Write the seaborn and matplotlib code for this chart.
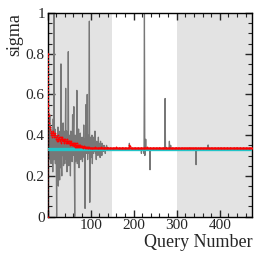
import numpy as np
import pandas as pd
import matplotlib
matplotlib.use("Agg")
import matplotlib.pyplot as plt
import seaborn as sns
from matplotlib.ticker import MultipleLocator, FuncFormatter

sns.set_style("ticks")
plt.rcParams['font.family'] = ['Liberation Serif', 'DejaVu Serif']

N_QUERIES = 476
BASELINE = 0.333

# grey series: per-query sigma for first 150 queries
grey_head = [
    0.34, 0.46, 0.26, 0.45, 0.32, 0.50, 0.28, 0.44, 0.26, 0.38,
    0.31, 0.42, 0.22, 0.48, 0.28, 1.00, 0.28, 0.43, 0.26, 0.39,
    0.30, 0.00, 0.40, 0.25, 0.44, 0.15, 0.38, 0.28, 0.18, 0.42,
    0.24, 0.75, 0.27, 0.20, 0.42, 0.30, 0.46, 0.25, 0.42, 0.30,
    0.26, 0.37, 0.63, 0.28, 0.42, 0.22, 0.38, 0.30, 0.81, 0.25,
    0.40, 0.30, 0.36, 0.20, 0.42, 0.31, 0.38, 0.27, 0.50, 0.30,
    0.41, 0.54, 0.30, 0.00, 0.40, 0.27, 0.37, 0.31, 0.62, 0.26,
    0.38, 0.30, 0.43, 0.24, 0.37, 0.31, 0.41, 0.28, 0.36, 0.31,
    0.39, 0.27, 0.37, 0.31, 0.45, 0.29, 0.38, 0.04, 0.41, 0.55,
    0.31, 0.37, 0.60, 0.28, 0.40, 0.31, 0.35, 0.96, 0.07, 0.39,
    0.31, 0.37, 0.29, 0.40, 0.26, 0.36, 0.31, 0.39, 0.32, 0.36,
    0.42, 0.31, 0.36, 0.28, 0.37, 0.32, 0.36, 0.30, 0.39, 0.31,
    0.36, 0.32, 0.29, 0.37, 0.33, 0.35, 0.30, 0.36, 0.33, 0.34,
    0.32, 0.35, 0.33, 0.34, 0.31, 0.34, 0.33, 0.35, 0.33, 0.34,
    0.333, 0.335, 0.332, 0.334, 0.333, 0.333, 0.334, 0.333, 0.333, 0.333,
]
# grey series after query 150: flat at baseline except these readings
grey_tail_idx = [190, 218, 224, 225, 226, 228, 238, 273, 275, 283, 286, 345, 373]
grey_tail_val = [0.36, 0.31, 0.31, 1.00, 0.30, 0.38, 0.23, 0.58, 0.34, 0.37, 0.35, 0.255, 0.352]

# red series: running estimate, first 100 queries
red_head = [
    0.00, 0.80, 0.55, 0.50, 0.46, 0.44, 0.43, 0.42, 0.41, 0.40,
    0.41, 0.39, 0.40, 0.42, 0.40, 0.41, 0.39, 0.40, 0.41, 0.38,
    0.39, 0.37, 0.38, 0.40, 0.38, 0.37, 0.39, 0.38, 0.37, 0.38,
    0.39, 0.38, 0.36, 0.38, 0.39, 0.37, 0.38, 0.37, 0.38, 0.36,
    0.37, 0.38, 0.37, 0.36, 0.37, 0.38, 0.36, 0.37, 0.36, 0.37,
    0.36, 0.37, 0.36, 0.35, 0.37, 0.36, 0.35, 0.36, 0.35, 0.36,
    0.35, 0.36, 0.35, 0.34, 0.36, 0.35, 0.34, 0.35, 0.36, 0.34,
    0.35, 0.34, 0.35, 0.34, 0.345, 0.34, 0.35, 0.34, 0.345, 0.34,
    0.34, 0.345, 0.34, 0.335, 0.34, 0.345, 0.34, 0.335, 0.34, 0.34,
    0.338, 0.342, 0.336, 0.34, 0.337, 0.339, 0.336, 0.34, 0.337, 0.338,
]
RED_LEVEL = 0.336
red_tail_idx = [110, 125, 140, 160, 175, 190, 192, 230, 260, 300, 330, 360, 400, 440]
red_tail_val = [0.342, 0.34, 0.339, 0.34, 0.338, 0.35, 0.345, 0.34, 0.339, 0.338, 0.339, 0.338, 0.339, 0.338]

CYAN_LEVEL = 0.333

shade_spans = [(0, 150), (300, 476)]

queries = np.arange(N_QUERIES)
grey = np.full(N_QUERIES, BASELINE)
grey[:len(grey_head)] = grey_head
grey[grey_tail_idx] = grey_tail_val
red = np.full(N_QUERIES, RED_LEVEL)
red[:len(red_head)] = red_head
red[red_tail_idx] = red_tail_val
cyan = np.full(N_QUERIES, CYAN_LEVEL)

df = pd.DataFrame({"q": queries, "grey": grey, "red": red, "cyan": cyan})

fig = plt.figure(figsize=(2.66, 2.60), dpi=100)
ax = fig.add_axes([0.179, 0.167, 0.770, 0.783])

for a, b in shade_spans:
    ax.axvspan(a, b, color="#e3e3e3", lw=0, zorder=0)

sns.lineplot(data=df, x="q", y="grey", ax=ax, color="#777777", lw=0.9, zorder=2)
sns.lineplot(data=df, x="q", y="cyan", ax=ax, color="#22c4c8", lw=2.4, zorder=3)
sns.lineplot(data=df, x="q", y="red", ax=ax, color="red", lw=0.9, ls=":",
             marker=".", markersize=2.6, markeredgewidth=0, zorder=4)

ax.set_xlim(0, 476)
ax.set_ylim(0, 1)
ax.xaxis.set_major_locator(MultipleLocator(100))
ax.xaxis.set_minor_locator(MultipleLocator(20))
ax.yaxis.set_major_locator(MultipleLocator(0.2))
ax.yaxis.set_minor_locator(MultipleLocator(0.05))
ax.yaxis.set_major_formatter(FuncFormatter(lambda v, p: f"{v:g}"))
ax.xaxis.set_major_formatter(FuncFormatter(lambda v, p: "" if v == 0 else f"{v:g}"))
ax.tick_params(which="both", direction="in", top=True, right=True, labelsize=11, pad=2)
ax.tick_params(which="major", length=5, width=1)
ax.tick_params(which="minor", length=3, width=0.8)
for s in ax.spines.values():
    s.set_linewidth(1.0)
    s.set_color("black")

ax.set_xlabel("Query Number", fontsize=13, loc="right", labelpad=1)
ax.set_ylabel("sigma", fontsize=13, loc="top", labelpad=2)

fig.savefig("out.png", dpi=100)
